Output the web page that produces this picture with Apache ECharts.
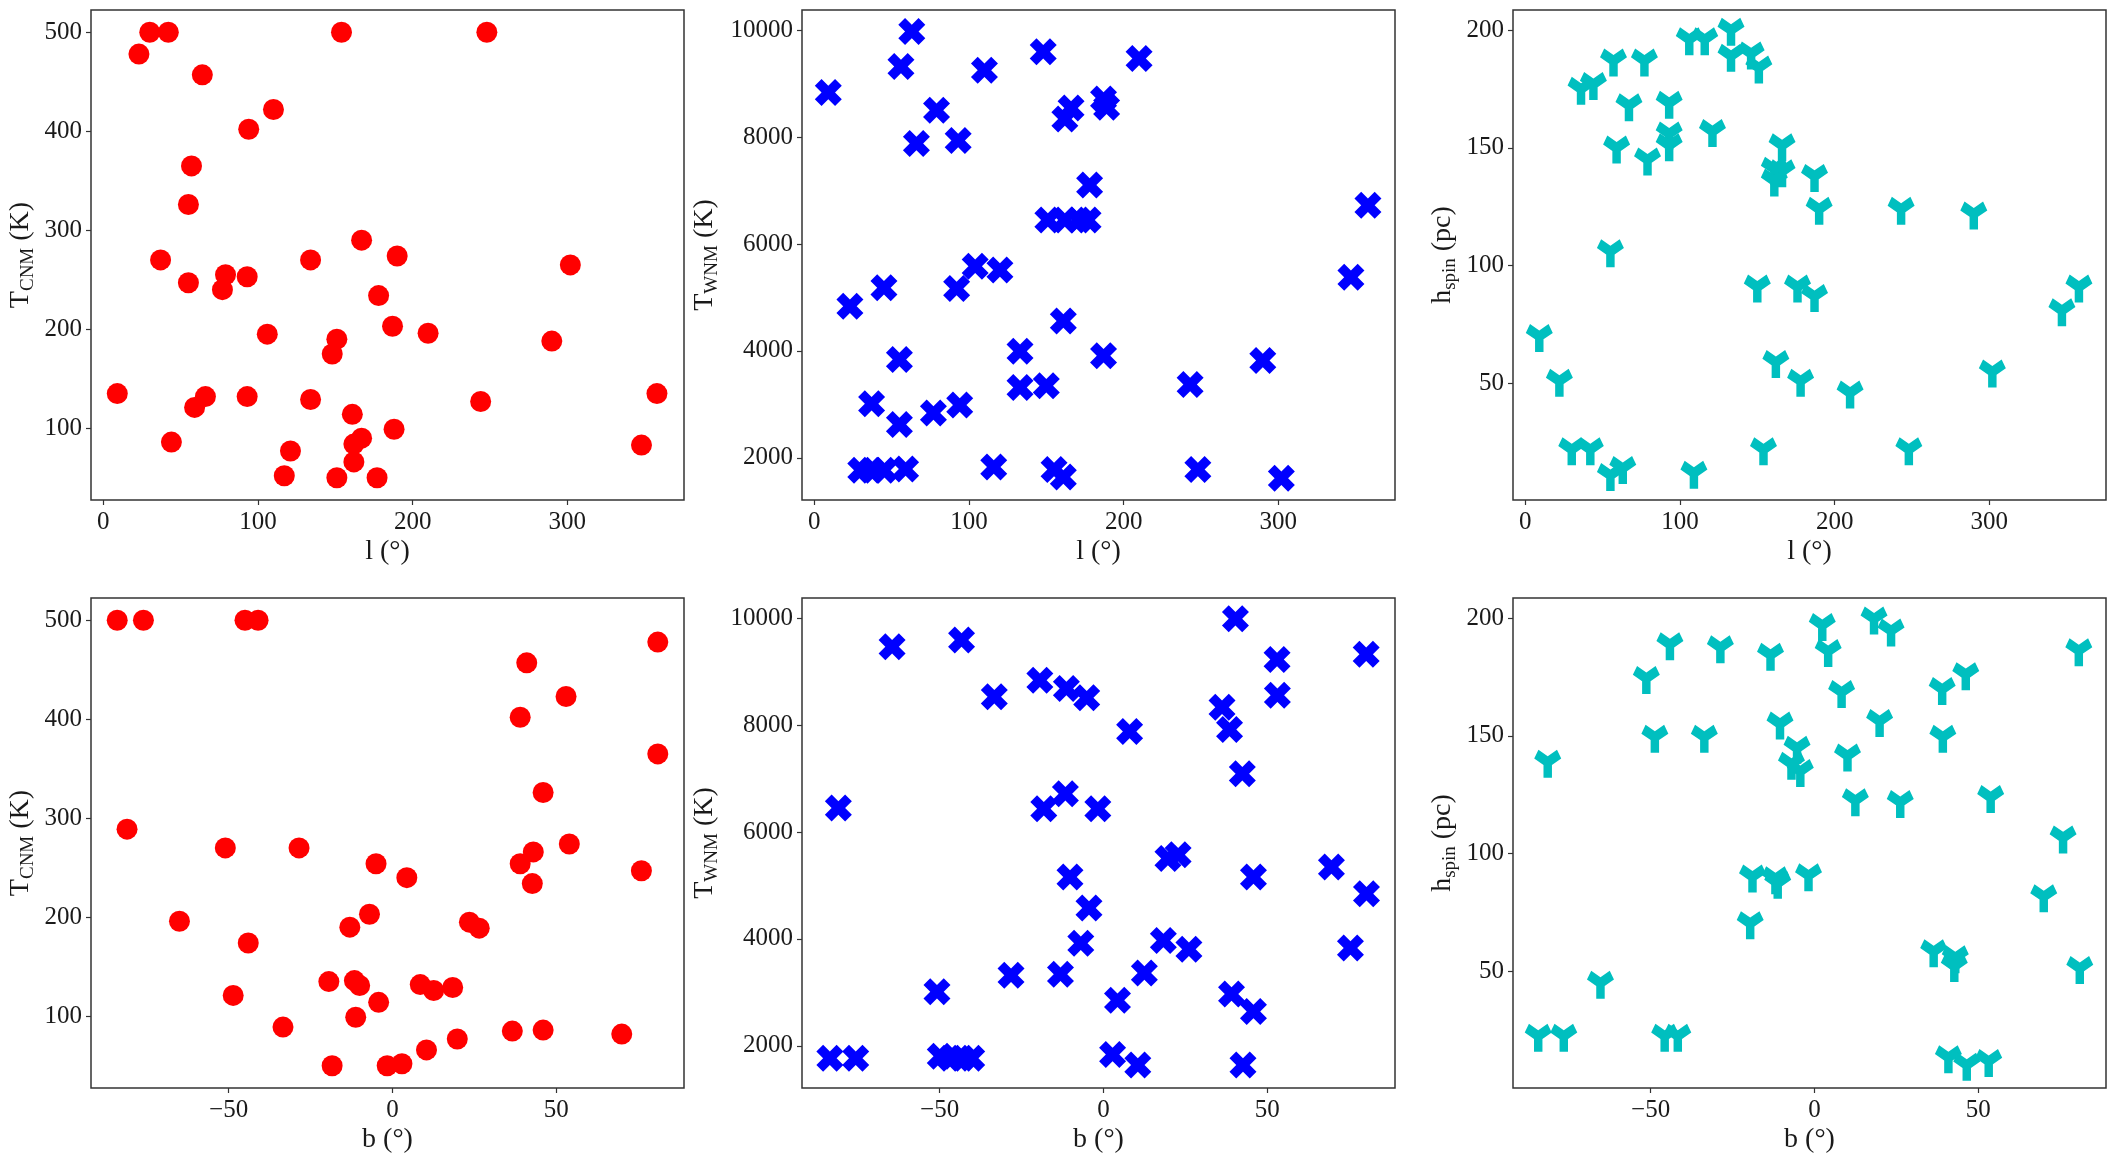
<!DOCTYPE html>
<html>
<head>
<meta charset="utf-8">
<script src="https://cdn.jsdelivr.net/npm/echarts@6/dist/echarts.min.js"></script>
<style>
html, body { margin: 0; padding: 0; background: #fff; }
#chart { width: 2116px; height: 1166px; }
</style>
</head>
<body>
<div id="chart"></div>
<script>
// tick labels
const lTicks = [0, 100, 200, 300]
const bTicks = [-50, 0, 50]
const cnmTicks = [100, 200, 300, 400, 500]
const wnmTicks = [2000, 4000, 6000, 8000, 10000]
const spinTicks = [50, 100, 150, 200]

// [l, T_CNM]
const lTcnm = [[30,500],[42,500],[154,500],[248,500],[23,478],[64,457],[110,422],[94,402],[57,365],[55,326],
	[167,290],[37,270],[134,270],[190,274],[302,265],[55,247],[79,255],[93,253],[77,240],[178,234],
	[187,203],[106,195],[151,190],[210,196],[290,188],[148,175],[9,135],[66,132],[59,121],[93,132],
	[134,129],[244,127],[358,135],[161,114],[44,86],[188,99],[167,90],[162,84],[121,77],[162,66],
	[117,52],[151,50],[177,50],[348,83]]

// [l, T_WNM]
const lTwnm = [[9,8837],[56,9322],[63,9979],[110,9253],[148,9599],[210,9474],[79,8505],[66,7882],[93,7938],[162,8339],
	[166,8547],[187,8713],[189,8561],[178,7107],[358,6727],[151,6450],[162,6450],[171,6450],[177,6450],[104,5585],
	[120,5516],[92,5170],[45,5183],[23,4837],[347,5377],[161,4561],[133,3993],[55,3841],[187,3910],[290,3820],
	[133,3315],[150,3349],[243,3370],[37,3010],[94,2990],[77,2837],[55,2623],[30,1765],[37,1765],[45,1765],
	[59,1792],[116,1827],[155,1779],[161,1640],[248,1779],[302,1619]]

// [l, h_spin]
const lHspin = [[133,200],[106,196],[116,196],[57,187],[77,187],[133,189],[146,190],[151,184],[36,175],[44,177],
	[67,168],[93,169],[93,156],[121,157],[59,150],[93,151],[79,145],[166,151],[161,141],[166,140],
	[161,136],[187,138],[190,124],[243,124],[290,122],[55,106],[150,91],[176,91],[187,87],[347,81],
	[358,91],[9,70],[162,59],[178,51],[210,46],[302,55],[22,51],[30,22],[42,22],[55,11],
	[63,14],[109,12],[154,22],[248,22]]

// [b, T_CNM]
const bTcnm = [[-84,500],[-76,500],[-45,500],[-41,500],[81,478],[41,457],[53,423],[39,402],[81,365],[46,326],
	[-81,289],[-51,270],[-28.5,270],[54,274],[-5,254],[39,254],[43,266],[76,247],[4.4,240],[42.7,234],
	[-65,196],[-7,203],[-13,190],[23.5,195],[26.5,189],[-44,174],[-19.4,135],[-11.6,136],[-10,131],[8.5,132],
	[12.6,126],[18.4,129],[-48.6,121],[-4.2,114],[-11.2,99],[-33.4,89],[36.6,85],[46,86],[70,82],[19.8,77],
	[10.4,66],[-18.4,50],[-1.6,50],[2.9,52]]

// [b, T_WNM]
const bTwnm = [[40.3,9993],[-64.5,9469],[-43.3,9595],[53,9231],[80.2,9329],[-19.4,8840],[-11.3,8686],[-5.1,8512],[-33.3,8532],[53.1,8560],
	[36.2,8337],[38.5,7918],[8,7883],[42.4,7093],[-80.9,6450],[-18.2,6436],[-11.6,6716],[-1.7,6436],[19.7,5507],[22.8,5577],
	[69.6,5346],[-10.2,5157],[45.8,5157],[80.3,4843],[-4.4,4577],[-6.9,3920],[18.3,3969],[26.1,3808],[75.4,3829],[-28.2,3319],
	[-13.1,3340],[12.5,3361],[-50.8,3012],[4.3,2851],[39.1,2970],[45.8,2641],[-83.5,1768],[-75.6,1768],[-49.8,1803],[-46.6,1768],
	[-43.2,1768],[-40.2,1768],[2.8,1838],[10.5,1642],[42.6,1642]]

// [b, h_spin]
const bHspin = [[18.2,199.7],[2.4,197],[23.4,194.6],[-44.1,188.8],[-28.7,187.5],[4.2,185.9],[-13.4,184.3],[80.7,186.2],[-51.3,174.5],[46.2,176.1],
	[8.3,168.5],[39,169.8],[-10.5,155.1],[19.9,156.2],[-48.7,149.5],[-33.6,149.5],[39.2,149.5],[-5.3,144.8],[-7,138.1],[10.1,141.6],
	[-4.3,135],[-81.4,138.9],[12.5,122.6],[26.2,121.8],[53.8,123.9],[75.9,106.8],[-18.9,90.2],[-11.9,89.4],[-11.2,87.5],[-1.8,90.7],
	[-19.6,70.4],[70,81.8],[-65.3,45.1],[36.4,58.5],[43,55.9],[42.7,52.2],[81,51.4],[-84.3,22.6],[-76.5,22.6],[-45.7,22.6],
	[-41.7,22.6],[40.9,13.5],[46.5,10.3],[53.2,11.9]]

const FONT = '"Liberation Serif", "DejaVu Serif", serif'
const TXT = '#1a1a1a'
const LINE = '#333'

const X_SYMBOL = 'path://M25 0L50 25L75 0L100 25L75 50L100 75L75 100L50 75L25 100L0 75L25 50L0 25Z'
// thick "tri_down" (Y) marker, junction sits a little above the box centre
const Y_SYMBOL = 'path://M98.7 249L188.7 249L188.7 135.9L287.5 78.7L242.5 0L143.7 57.7L45 0L0 78.7L98.7 135.9Z'

const marks = {
	cnm: { symbol: 'circle', symbolSize: 21, symbolOffset: [0, 0], keep: true, color: '#ff0000' },
	wnm: { symbol: X_SYMBOL, symbolSize: 27, symbolOffset: [0, 0], keep: true, color: '#0000ff' },
	spin: { symbol: Y_SYMBOL, symbolSize: [27, 28], symbolOffset: [0, 1.8], keep: false, color: '#00bfbf' },
}

const subRich = {
	m: { fontFamily: FONT, fontSize: 28, color: TXT, lineHeight: 34 },
	s: { fontFamily: FONT, fontSize: 19, color: TXT, verticalAlign: 'bottom' },
}

const yNames = {
	cnm: '{m|T}{s|CNM}{m| (K)}',
	wnm: '{m|T}{s|WNM}{m| (K)}',
	spin: '{m|h}{s|spin}{m| (pc)}',
}
const yRanges = { cnm: [27.5, 522.5], wnm: [1210, 10380], spin: [0.5, 208.5] }
const yTicks = { cnm: cnmTicks, wnm: wnmTicks, spin: spinTicks }
const yGaps = { cnm: 53, wnm: 80, spin: 53 }

const panels = [
	{ data: lTcnm, xk: 'l', yk: 'cnm', left: 91, top: 10 },
	{ data: lTwnm, xk: 'l', yk: 'wnm', left: 802, top: 10 },
	{ data: lHspin, xk: 'l', yk: 'spin', left: 1513, top: 10 },
	{ data: bTcnm, xk: 'b', yk: 'cnm', left: 91, top: 598 },
	{ data: bTwnm, xk: 'b', yk: 'wnm', left: 802, top: 598 },
	{ data: bHspin, xk: 'b', yk: 'spin', left: 1513, top: 598 },
]

const fmt = v => String(v).replace('-', '\u2212')

const axisBase = (ticks) => ({
	type: 'value',
	scale: true,
	splitLine: { show: false },
	axisLine: { show: false, onZero: false },
	axisTick: { show: true, inside: false, length: 5, customValues: ticks, lineStyle: { color: LINE, width: 1.2 } },
	axisLabel: { customValues: ticks, formatter: fmt, fontFamily: FONT, fontSize: 25, color: TXT },
})

const option = {
	animation: false,
	backgroundColor: '#fff',
	grid: panels.map(p => ({
		left: p.left, top: p.top, width: 593, height: 490,
		show: true, borderColor: LINE, borderWidth: 1.5, backgroundColor: 'transparent',
	})),
	xAxis: panels.map((p, i) => {
		const ax = axisBase(p.xk === 'l' ? lTicks : bTicks)
		ax.gridIndex = i
		ax.min = p.xk === 'l' ? -8 : -92
		ax.max = p.xk === 'l' ? 375.5 : 89
		ax.name = p.xk + ' (°)'
		ax.nameLocation = 'middle'
		ax.nameGap = 38
		ax.nameTextStyle = { fontFamily: FONT, fontSize: 28, color: TXT }
		ax.axisLabel.margin = 10
		return ax
	}),
	yAxis: panels.map((p, i) => {
		const ax = axisBase(yTicks[p.yk])
		ax.gridIndex = i
		ax.min = yRanges[p.yk][0]
		ax.max = yRanges[p.yk][1]
		ax.name = yNames[p.yk]
		ax.nameLocation = 'middle'
		ax.nameGap = yGaps[p.yk]
		ax.nameTextStyle = { rich: subRich }
		ax.axisLabel.margin = 9
		return ax
	}),
	series: panels.map((p, i) => ({
		type: 'scatter',
		xAxisIndex: i,
		yAxisIndex: i,
		data: p.data,
		symbol: marks[p.yk].symbol,
		symbolSize: marks[p.yk].symbolSize,
		symbolOffset: marks[p.yk].symbolOffset,
		symbolKeepAspect: marks[p.yk].keep,
		itemStyle: { color: marks[p.yk].color, opacity: 1 },
		emphasis: { disabled: true },
	})),
}

const chart = echarts.init(document.getElementById('chart'))
chart.setOption(option)
window.addEventListener('resize', () => {
	chart.resize()
})
</script>
</body>
</html>
